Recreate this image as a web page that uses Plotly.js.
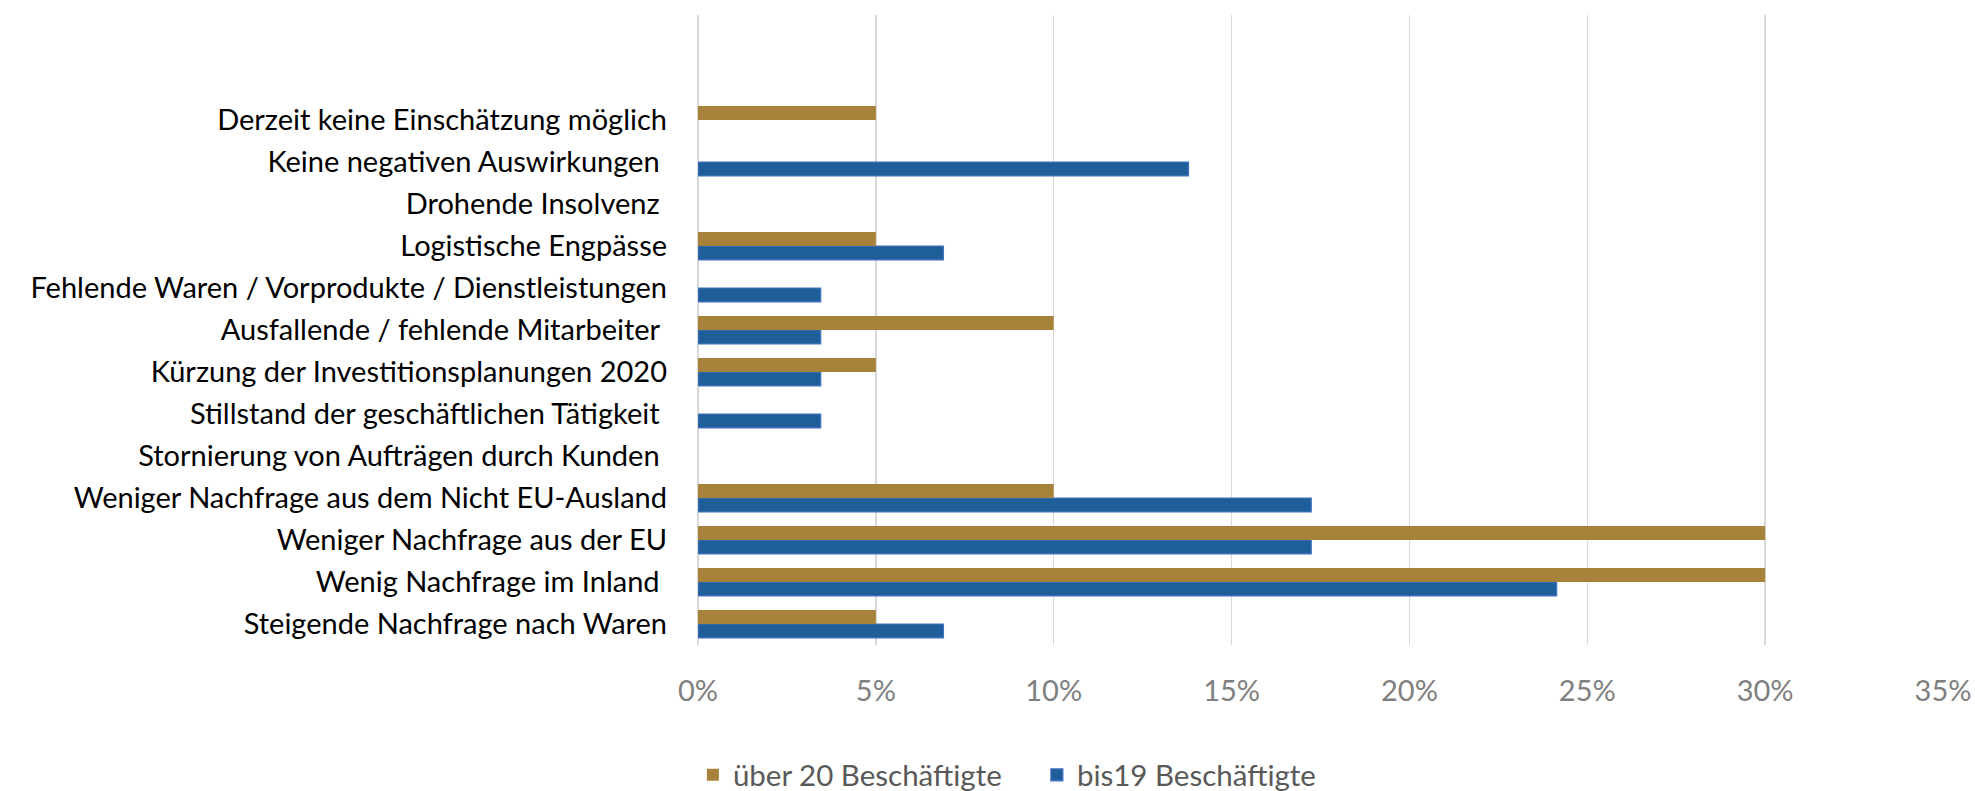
<!DOCTYPE html>
<html>
<head>
<meta charset="utf-8">
<script src="https://cdn.plot.ly/plotly-3.0.1.min.js"></script>
<style>html,body{margin:0;padding:0;background:#fff;}#chart{width:1975px;height:791px;}</style>
</head>
<body>
<div id="chart"></div>
<script>
// categories bottom to top
const categories = [
  "Steigende Nachfrage nach Waren",
  "Wenig Nachfrage im Inland\u00A0",
  "Weniger Nachfrage aus der EU",
  "Weniger Nachfrage aus dem Nicht EU-Ausland",
  "Stornierung von Aufträgen durch Kunden\u00A0",
  "Stillstand der geschäftlichen Tätigkeit\u00A0",
  "Kürzung der Investitionsplanungen 2020",
  "Ausfallende / fehlende Mitarbeiter\u00A0",
  "Fehlende Waren / Vorprodukte / Dienstleistungen",
  "Logistische Engpässe",
  "Drohende Insolvenz\u00A0",
  "Keine negativen Auswirkungen\u00A0",
  "Derzeit keine Einschätzung möglich"
];
const ueber20 = [5, 30, 30, 10, 0, 0, 5, 10, 0, 5, 0, 0, 5];
const bis19 = [6.9, 24.14, 17.24, 17.24, 0, 3.45, 3.45, 3.45, 3.45, 6.9, 0, 13.79, 0];
const seriesNames = ["über 20 Beschäftigte", "bis19 Beschäftigte"];
const tickVals = [0, 5, 10, 15, 20, 25, 30, 35];
const tickText = ["0%", "5%", "10%", "15%", "20%", "25%", "30%", "35%"];

const FONT = "Lato, 'Open Sans', sans-serif";
const traces = [
  {
    type: "bar", orientation: "h", name: seriesNames[1],
    y: categories, x: bis19,
    marker: {color: "#1F5F99", line: {color: "#4472C4", width: bis19.map(v => v > 0 ? 1.2 : 0)}},
    legendrank: 2, hoverinfo: "x+y"
  },
  {
    type: "bar", orientation: "h", name: seriesNames[0],
    y: categories, x: ueber20,
    marker: {color: "#A6823A", line: {width: 0}},
    legendrank: 1, hoverinfo: "x+y"
  }
];
const layout = {
  width: 1975, height: 791,
  margin: {l: 698, r: 32, t: 15, b: 146, pad: 0},
  paper_bgcolor: "#fff", plot_bgcolor: "#fff",
  barmode: "group", bargap: 0.335, bargroupgap: 0,
  font: {family: FONT, size: 29, color: "#000"},
  xaxis: {
    range: [0, 35], tickvals: tickVals, ticktext: tickText,
    showgrid: true, gridcolor: "#D9D9D9", gridwidth: 1.5,
    zeroline: true, zerolinecolor: "#D9D9D9", zerolinewidth: 1.5,
    showline: false, ticks: "", ticklen: 0,
    ticklabelstandoff: 26,
    tickfont: {family: FONT, size: 29, color: "#7F7F7F"},
    automargin: false
  },
  yaxis: {
    type: "category", range: [-0.5, 14.5],
    showgrid: false, zeroline: false, showline: false, ticks: "",
    ticklabelstandoff: 30,
    tickfont: {family: FONT, size: 29, color: "#000"},
    automargin: false
  },
  showlegend: true,
  legend: {
    orientation: "h", xref: "container", yref: "container",
    x: 0.525, xanchor: "center", y: 0.02, yanchor: "middle",
    font: {family: FONT, size: 29.5, color: "#595959"},
    traceorder: "normal", itemwidth: 30, tracegroupgap: 0,
    entrywidth: 299, entrywidthmode: "pixels"
  }
};
Plotly.newPlot("chart", traces, layout, {displayModeBar: false, staticPlot: true});
</script>
</body>
</html>
